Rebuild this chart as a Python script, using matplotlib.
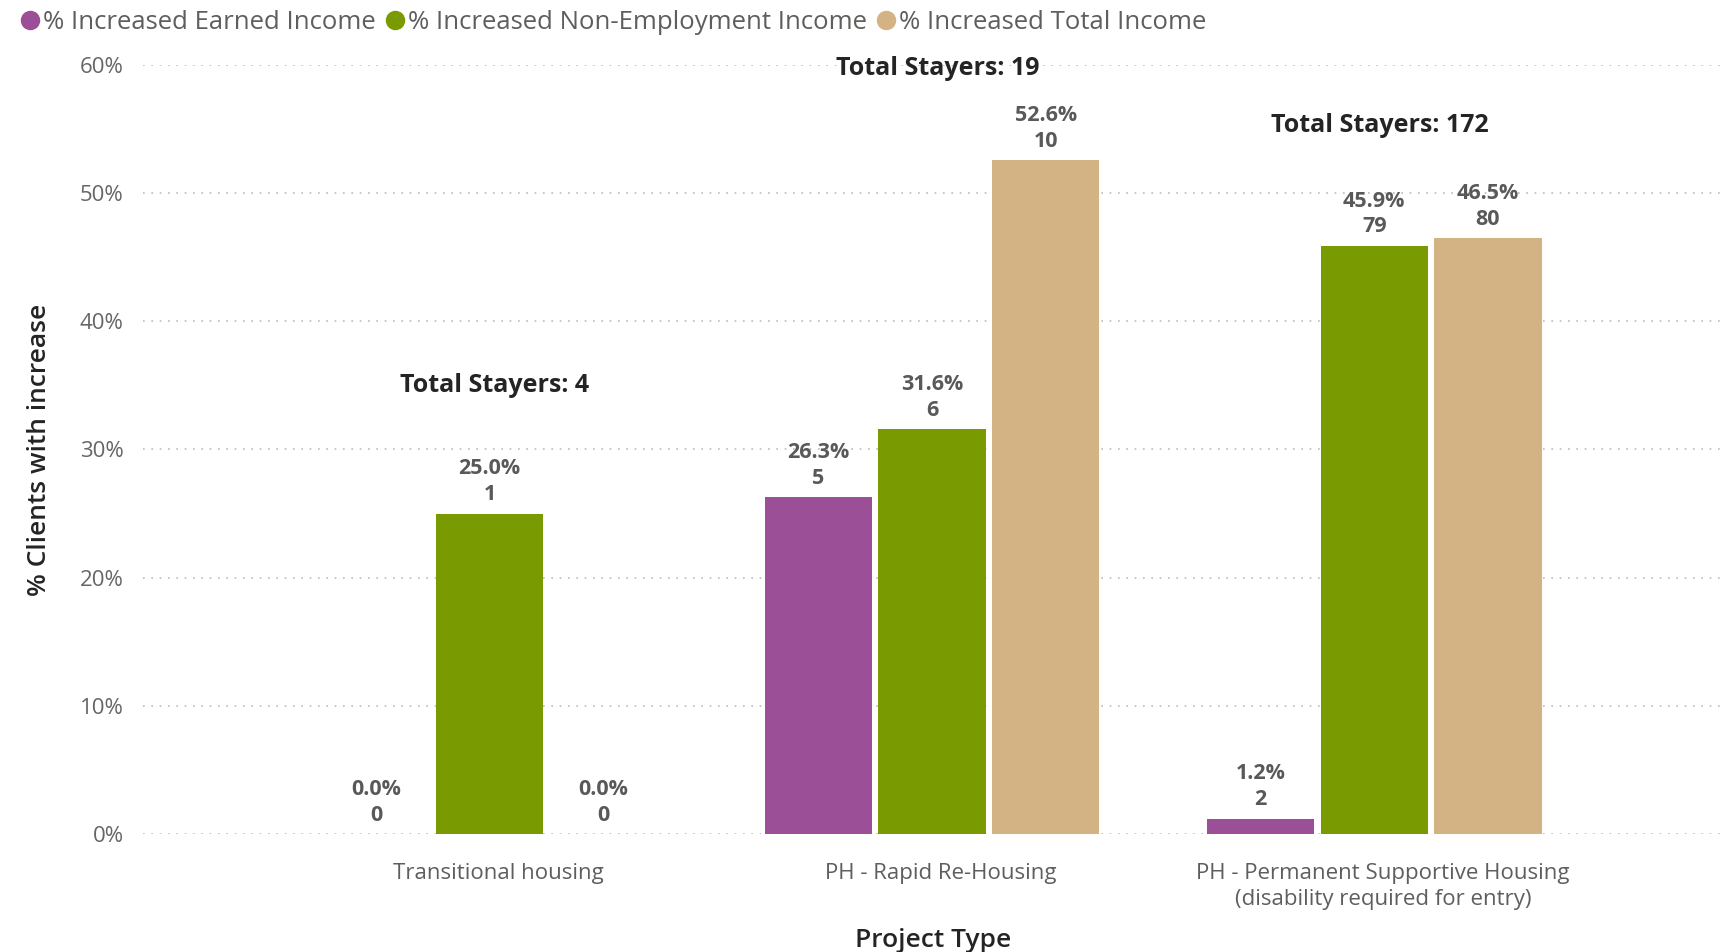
import numpy as np
import matplotlib
matplotlib.use("Agg")
import matplotlib.pyplot as plt
from matplotlib.lines import Line2D

# datos
categorias = ["Transitional housing", "PH - Rapid Re-Housing",
              "PH - Permanent Supportive Housing\n(disability required for entry)"]
series = ["% Increased Earned Income", "% Increased Non-Employment Income",
          "% Increased Total Income"]
pct_earned = [0.0, 0.263, 0.012]
pct_nonemp = [0.25, 0.316, 0.459]
pct_total = [0.0, 0.526, 0.465]
n_earned = [0, 5, 2]
n_nonemp = [1, 6, 79]
n_total = [0, 10, 80]
total_stayers = [4, 19, 172]

colores = ["#9B4F96", "#7A9A01", "#D3B384"]

plt.rcParams['font.family'] = ['Open Sans', 'DejaVu Sans']

fig = plt.figure(figsize=(17.27, 9.52), dpi=100)
ax = fig.add_axes([0.0828, 0.124, 0.915, 0.8077])

x = np.arange(len(categorias))
ancho = 0.243
paso = 0.257
valores = [pct_earned, pct_nonemp, pct_total]
conteos = [n_earned, n_nonemp, n_total]

for i, (vals, ns) in enumerate(zip(valores, conteos)):
    pos = x + (i - 1) * paso
    ax.bar(pos, vals, width=ancho, color=colores[i], zorder=3)
    for px, v, n in zip(pos, vals, ns):
        ax.annotate(f"{v*100:.1f}%\n{n}", (px, v), xytext=(0, 6),
                    textcoords="offset points", ha="center", va="bottom",
                    fontsize=15.5, fontweight="bold", color="#595959",
                    linespacing=1.3)

# etiquetas "Total Stayers" (offset en puntos sobre la barra mayor)
offsets = [83, 57, 72]
for xi, ts, off in zip(x, total_stayers, offsets):
    top = max(pct_earned[xi], pct_nonemp[xi], pct_total[xi])
    ax.annotate(f"Total Stayers: {ts}", (xi + 0.012, top), xytext=(0, off),
                textcoords="offset points", ha="center", va="bottom",
                fontsize=18, fontweight="bold", color="#252423",
                annotation_clip=False)

ax.set_xlim(-0.784, 2.789)
ax.set_ylim(0, 0.6)
ax.set_yticks(np.arange(0, 0.61, 0.1))
ax.set_yticklabels([f"{int(round(t*100))}%" for t in np.arange(0, 0.61, 0.1)],
                   fontsize=16, color="#666666")
ax.set_xticks(x + 0.02)
ax.set_xticklabels(categorias, fontsize=16, color="#605E5C", linespacing=1.3)
ax.tick_params(axis="x", length=0, pad=21)
ax.tick_params(axis="y", length=0, pad=14)
ax.grid(axis="y", linestyle=(0, (1, 4)), color="#BBBBBB", linewidth=1.2, zorder=0)
for s in ax.spines.values():
    s.set_visible(False)

ax.set_ylabel("% Clients with increase", fontsize=19, color="#252423",
              fontweight="semibold", labelpad=20)
ax.set_xlabel("Project Type", fontsize=19, color="#252423",
              fontweight="semibold", labelpad=13)

handles = [Line2D([0], [0], marker="o", linestyle="", markersize=13,
                  markerfacecolor=c, markeredgecolor=c) for c in colores]
fig.legend(handles, series, loc="upper left", bbox_to_anchor=(-0.002, 1.014),
           ncol=3, frameon=False, fontsize=18.5, handlelength=0.8,
           handletextpad=0.1, columnspacing=0.35, labelcolor="#605E5C")

plt.savefig("out.png", dpi=100)
plt.close(fig)
